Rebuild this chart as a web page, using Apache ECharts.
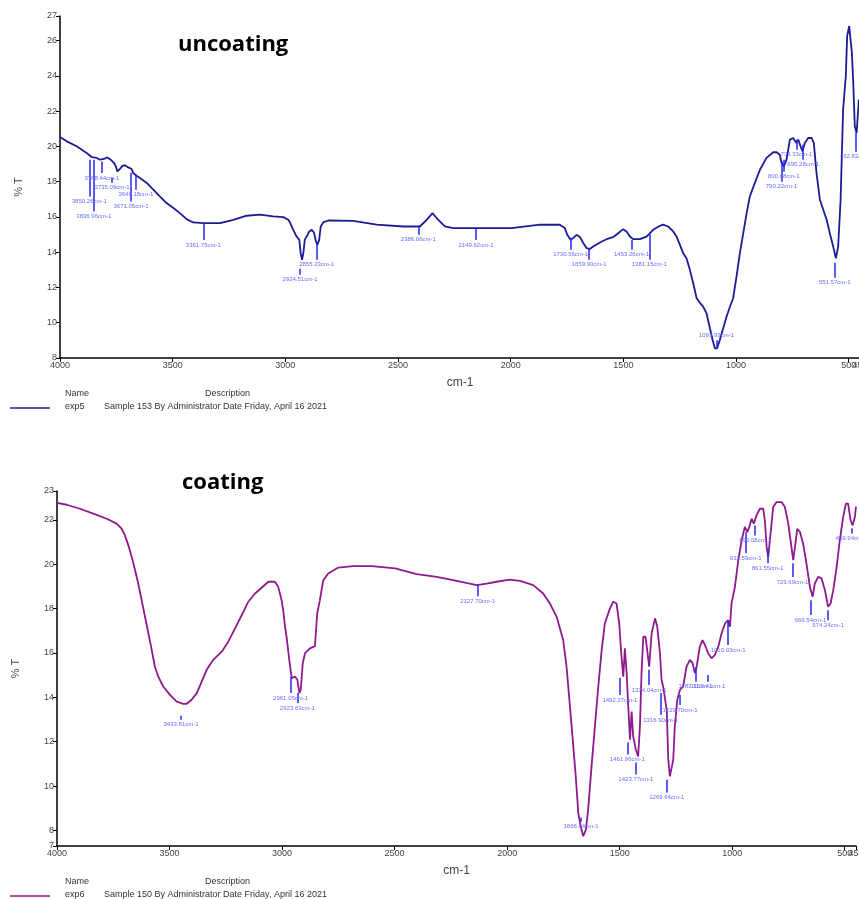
<!DOCTYPE html>
<html>
<head>
<meta charset="utf-8">
<script src="https://cdn.jsdelivr.net/npm/echarts@6/dist/echarts.min.js"></script>
<style>
  html, body { margin: 0; padding: 0; background: #fff; }
  #chart { width: 859px; height: 899px; }
</style>
</head>
<body>
<div id="chart"></div>
<script>
// uncoating spectrum (exp5) - wavenumber / %T
var uncoatWave = [4000,3970,3926,3882,3859,3837,3823,3815,3805,3790,3775,3760,3752,3746,3734,3722,3712,3697,3682,3675,3667,3660,3645,3615,3586,3556,3527,3497,3468,3438,3409,3364,3290,3231,3172,3113,3054,3009,2987,2980,2965,2950,2938,2932,2926,2920,2914,2905,2894,2883,2873,2864,2858,2850,2843,2832,2810,2699,2595,2477,2403,2373,2347,2329,2292,2255,2137,1996,1989,1870,1782,1760,1749,1734,1723,1708,1693,1678,1663,1649,1634,1604,1575,1545,1523,1501,1486,1471,1457,1427,1397,1368,1338,1324,1301,1279,1264,1249,1235,1220,1205,1190,1175,1161,1146,1131,1116,1104,1094,1084,1072,1057,1042,1027,1013,998,983,968,953,939,917,894,865,835,820,806,798,788,776,761,747,732,724,714,705,695,680,665,655,643,628,613,598,584,569,557,547,536,525,513,507,498,492,486,480,473,465,455];
var uncoatT = [20.54,20.29,20.01,19.63,19.40,19.35,19.25,19.15,19.29,19.38,19.25,19.06,18.87,18.59,18.72,18.91,18.93,18.81,18.72,18.49,18.40,18.34,18.21,17.93,17.55,17.16,16.79,16.51,16.22,15.88,15.69,15.65,15.65,15.84,16.07,16.13,16.03,15.99,15.84,15.70,15.27,14.89,14.70,13.95,13.57,13.95,14.70,14.89,15.18,15.27,15.12,14.61,14.42,14.70,15.46,15.69,15.80,15.78,15.56,15.46,15.46,15.84,16.22,15.94,15.46,15.37,15.37,15.37,15.46,15.56,15.56,15.37,14.99,14.70,14.80,14.99,14.86,14.52,14.23,14.18,14.32,14.55,14.74,14.86,15.08,15.31,15.18,14.89,14.74,14.74,14.89,15.27,15.50,15.56,15.46,15.18,14.89,14.42,13.95,13.66,13.00,12.24,11.39,11.14,10.91,10.54,9.69,9.02,8.55,8.55,9.02,9.69,10.35,10.91,11.39,12.62,13.95,15.08,16.22,17.16,17.92,18.68,19.35,19.67,19.67,19.53,19.06,18.87,19.25,20.39,20.48,20.20,20.39,20.01,19.72,20.20,20.48,20.48,20.20,18.49,16.98,16.41,15.84,15.08,14.32,13.66,14.32,16.98,22.09,23.98,26.26,26.83,26.83,25.31,23.61,21.14,20.76,22.66];

// coating spectrum (exp6)
var coatWave = [4000,3957,3898,3839,3779,3735,3713,3698,3683,3668,3653,3639,3624,3609,3594,3579,3565,3550,3528,3498,3468,3439,3424,3402,3379,3357,3335,3306,3268,3239,3209,3179,3150,3120,3091,3061,3032,3017,3002,2995,2987,2980,2968,2957,2943,2932,2923,2917,2908,2898,2876,2854,2844,2832,2817,2795,2750,2684,2602,2498,2402,2313,2224,2135,2091,2047,1988,1943,1884,1840,1810,1780,1751,1736,1721,1706,1694,1684,1673,1662,1650,1640,1625,1610,1595,1580,1566,1546,1529,1514,1502,1492,1484,1477,1469,1462,1454,1447,1440,1428,1418,1410,1403,1395,1385,1369,1358,1343,1333,1321,1314,1307,1299,1291,1284,1277,1262,1255,1244,1232,1218,1203,1188,1176,1166,1158,1144,1132,1121,1107,1092,1077,1062,1047,1032,1018,1010,1003,988,973,958,944,933,924,914,904,892,877,862,855,847,840,829,818,803,781,766,751,736,729,721,711,699,685,670,655,643,633,618,603,588,574,563,551,536,522,507,495,485,474,465,455,450];
var coatT = [22.76,22.68,22.50,22.28,22.05,21.83,21.60,21.30,20.85,20.33,19.73,19.13,18.38,17.63,16.89,16.13,15.38,14.93,14.49,14.11,13.81,13.71,13.71,13.89,14.19,14.71,15.24,15.69,16.06,16.51,17.11,17.71,18.31,18.68,18.94,19.21,19.21,18.98,18.38,17.93,17.20,16.73,15.69,14.86,14.94,14.79,14.19,14.34,15.54,15.99,16.21,16.31,17.78,18.38,19.28,19.58,19.85,19.91,19.91,19.81,19.55,19.43,19.25,19.06,19.13,19.21,19.31,19.25,19.06,18.68,18.23,17.63,16.58,15.38,13.59,11.79,10.29,8.79,8.19,7.74,8.04,8.94,10.89,12.69,14.49,16.13,17.33,17.93,18.31,18.23,17.33,15.83,14.93,16.21,15.09,13.59,12.09,13.36,12.24,11.64,11.34,12.69,15.09,16.73,16.73,15.38,16.89,17.56,17.18,15.99,14.79,14.49,14.49,13.44,11.19,10.44,11.19,12.69,13.89,14.34,14.49,15.38,15.69,15.54,15.09,15.38,16.28,16.58,16.36,15.99,15.76,15.91,16.28,16.89,17.33,17.48,17.18,18.23,18.98,20.18,21.08,21.68,21.45,21.68,22.05,21.83,22.20,22.50,22.50,21.98,20.78,20.33,21.45,22.58,22.80,22.80,22.58,21.83,20.71,20.18,20.78,21.60,21.45,20.93,20.03,18.98,18.53,19.13,19.43,19.36,18.83,18.08,18.23,18.83,19.88,21.08,22.13,22.73,22.73,21.98,21.75,22.13,22.60];

// axis tick values (the end tick 450 sits on its own label axis)
var waveTicks = [4000,3500,3000,2500,2000,1500,1000,500];
var waveEndTicks = [450];
var uncoatTTicks = [8,10,12,14,16,18,20,22,24,26,27.4];
var coatTTicks = [7.3,8,10,12,14,16,18,20,22,23.3];

// peak picks: wavenumber, %T where the tick starts and ends, label
var uncoatPeakWave = [3870,3850,3814,3769,3685,3663,3364,2861,2935,2410,2154,1734,1652,1464,1385,1087,798,788,732,702,562,469];
var uncoatPeakFrom = [19.25,19.25,19.15,18.23,18.51,18.40,15.65,14.42,13.06,15.44,15.39,14.82,14.25,14.70,15.10,8.60,19.14,19.25,20.39,20.10,13.40,20.78];
var uncoatPeakTo = [17.16,16.31,18.49,17.94,16.88,17.55,14.70,13.57,12.72,14.99,14.70,14.14,13.57,14.14,13.57,9.00,18.00,18.57,19.82,19.25,12.55,19.70];
var uncoatPeakText = ['3850.26cm-1','3836.96cm-1','3768.44cm-1','3735.09cm-1','3671.05cm-1','3640.18cm-1','3361.75cm-1','2855.23cm-1','2924.51cm-1','2386.06cm-1','2149.62cm-1','1730.56cm-1','1659.90cm-1','1453.26cm-1','1381.15cm-1','1093.93cm-1','790.22cm-1','800.08cm-1','733.33cm-1','695.28cm-1','551.57cm-1','462.82cm-1'];

var coatPeakWave = [3449,2962,2932,2131,1672,1499,1466,1428,1369,1318,1291,1232,1163,1107,1018,940,898,843,732,652,574,470];
var coatPeakFrom = [13.17,14.93,14.20,19.06,8.58,14.88,11.96,11.06,15.24,14.20,10.29,14.11,15.37,15.01,17.48,21.44,21.75,20.63,20.04,18.38,17.93,21.62];
var coatPeakTo = [12.99,14.20,13.75,18.56,8.40,14.11,11.42,10.52,14.56,13.21,9.71,13.66,14.70,14.70,16.36,20.49,21.30,20.04,19.42,17.71,17.48,21.39];
var coatPeakText = ['3433.81cm-1','2961.05cm-1','2923.63cm-1','2127.70cm-1','1666.64cm-1','1492.27cm-1','1461.96cm-1','1423.77cm-1','1374.04cm-1','1316.90cm-1','1269.64cm-1','1229.70cm-1','1183.11cm-1','1103.41cm-1','1010.03cm-1','932.59cm-1','890.08cm-1','861.55cm-1','723.69cm-1','669.54cm-1','574.24cm-1','469.94cm-1'];

var uncoatColor = '#1c1c94';
var coatColor = '#8e1a8e';
var peakColor = '#2626f0';
var peakTextColor = '#6b6bff';
var baseFont = 'Liberation Sans, Arial, sans-serif';

function zip(a, b){
    var out = [];
    for (var i = 0; i < a.length; i++) out.push([a[i], b[i]]);
    return out;
}

function peakLines(wave, from, to, text){
    var out = [];
    for (var i = 0; i < wave.length; i++){
        out.push([{coord: [wave[i], from[i]], name: text[i]}, {coord: [wave[i], to[i]]}]);
    }
    return out;
}

function xAxisFor(grid, ticks, withLine){
    return {
        type: 'value', gridIndex: grid, inverse: true, position: 'bottom',
        min: 450, max: 4000,
        name: withLine ? 'cm-1' : '', nameLocation: 'middle', nameGap: 19,
        nameTextStyle: {fontSize: 12, color: '#444', fontFamily: baseFont},
        axisLine: {show: withLine, onZero: false, lineStyle: {color: '#000', width: 1.5}},
        axisTick: {length: 4, lineStyle: {color: '#000'}, customValues: ticks},
        axisLabel: {fontSize: 9, color: '#444', margin: 3, fontFamily: baseFont, hideOverlap: false,
            customValues: ticks,
            formatter: function(v){ return String(Math.round(v)); }},
        splitLine: {show: false}
    };
}

function yAxisFor(grid, lo, hi, ticks){
    return {
        type: 'value', gridIndex: grid, min: lo, max: hi,
        name: '% T', nameLocation: 'middle', nameGap: 36, nameRotate: 90,
        nameTextStyle: {fontSize: 11, color: '#444', fontFamily: baseFont},
        axisLine: {show: true, lineStyle: {color: '#000', width: 1.5}},
        axisTick: {show: true, length: 4, lineStyle: {color: '#000'}, customValues: ticks},
        axisLabel: {fontSize: 9, color: '#444', margin: 3, fontFamily: baseFont, hideOverlap: false,
            customValues: ticks,
            formatter: function(v){ return String(Math.round(v)); }},
        splitLine: {show: false}
    };
}

function markFor(wave, from, to, text){
    return {
        silent: true, animation: false, symbol: ['none', 'none'],
        lineStyle: {color: peakColor, width: 1.5, type: 'solid'},
        label: {show: true, position: 'end', distance: 2, formatter: '{b}',
            fontSize: 6, color: peakTextColor, fontFamily: baseFont},
        data: peakLines(wave, from, to, text)
    };
}

function legendBlock(y, color, nameTxt, desc){
    return [
        {type: 'text', left: 65, top: y - 18, style: {text: 'Name', font: '9px ' + baseFont, fill: '#333'}},
        {type: 'text', left: 205, top: y - 18, style: {text: 'Description', font: '9px ' + baseFont, fill: '#333'}},
        {type: 'line', shape: {x1: 10, y1: y + 1, x2: 50, y2: y + 1}, style: {stroke: color, lineWidth: 1.5}},
        {type: 'text', left: 65, top: y - 5, style: {text: nameTxt, font: '9px ' + baseFont, fill: '#333'}},
        {type: 'text', left: 104, top: y - 5, style: {text: desc, font: '9px ' + baseFont, fill: '#333'}}
    ];
}

var chart = echarts.init(document.getElementById('chart'));
var option = {
    animation: false,
    backgroundColor: '#fff',
    grid: [
        {left: 60, top: 16, width: 800, height: 342, outerBoundsMode: 'none', containLabel: false},
        {left: 57, top: 491, width: 799, height: 355, outerBoundsMode: 'none', containLabel: false}
    ],
    xAxis: [
        xAxisFor(0, waveTicks, true), xAxisFor(1, waveTicks, true),
        xAxisFor(0, waveEndTicks, false), xAxisFor(1, waveEndTicks, false)
    ],
    yAxis: [yAxisFor(0, 8, 27.4, uncoatTTicks), yAxisFor(1, 7.3, 23.3, coatTTicks)],
    series: [
        {
            name: 'exp5', type: 'line', xAxisIndex: 0, yAxisIndex: 0,
            showSymbol: false, lineStyle: {color: uncoatColor, width: 1.8},
            data: zip(uncoatWave, uncoatT),
            markLine: markFor(uncoatPeakWave, uncoatPeakFrom, uncoatPeakTo, uncoatPeakText)
        },
        {
            name: 'exp6', type: 'line', xAxisIndex: 1, yAxisIndex: 1,
            showSymbol: false, lineStyle: {color: coatColor, width: 1.8},
            data: zip(coatWave, coatT),
            markLine: markFor(coatPeakWave, coatPeakFrom, coatPeakTo, coatPeakText)
        }
    ],
    graphic: [
        {type: 'text', left: 178, top: 34, style: {text: 'uncoating', font: 'bold 22px "Open Sans", sans-serif', fill: '#000'}},
        {type: 'text', left: 182, top: 472, style: {text: 'coating', font: 'bold 22px "Open Sans", sans-serif', fill: '#000'}}
    ].concat(
        legendBlock(407, uncoatColor, 'exp5', 'Sample 153 By Administrator Date Friday, April 16 2021'),
        legendBlock(895, coatColor, 'exp6', 'Sample 150 By Administrator Date Friday, April 16 2021')
    )
};
chart.setOption(option);
</script>
</body>
</html>
